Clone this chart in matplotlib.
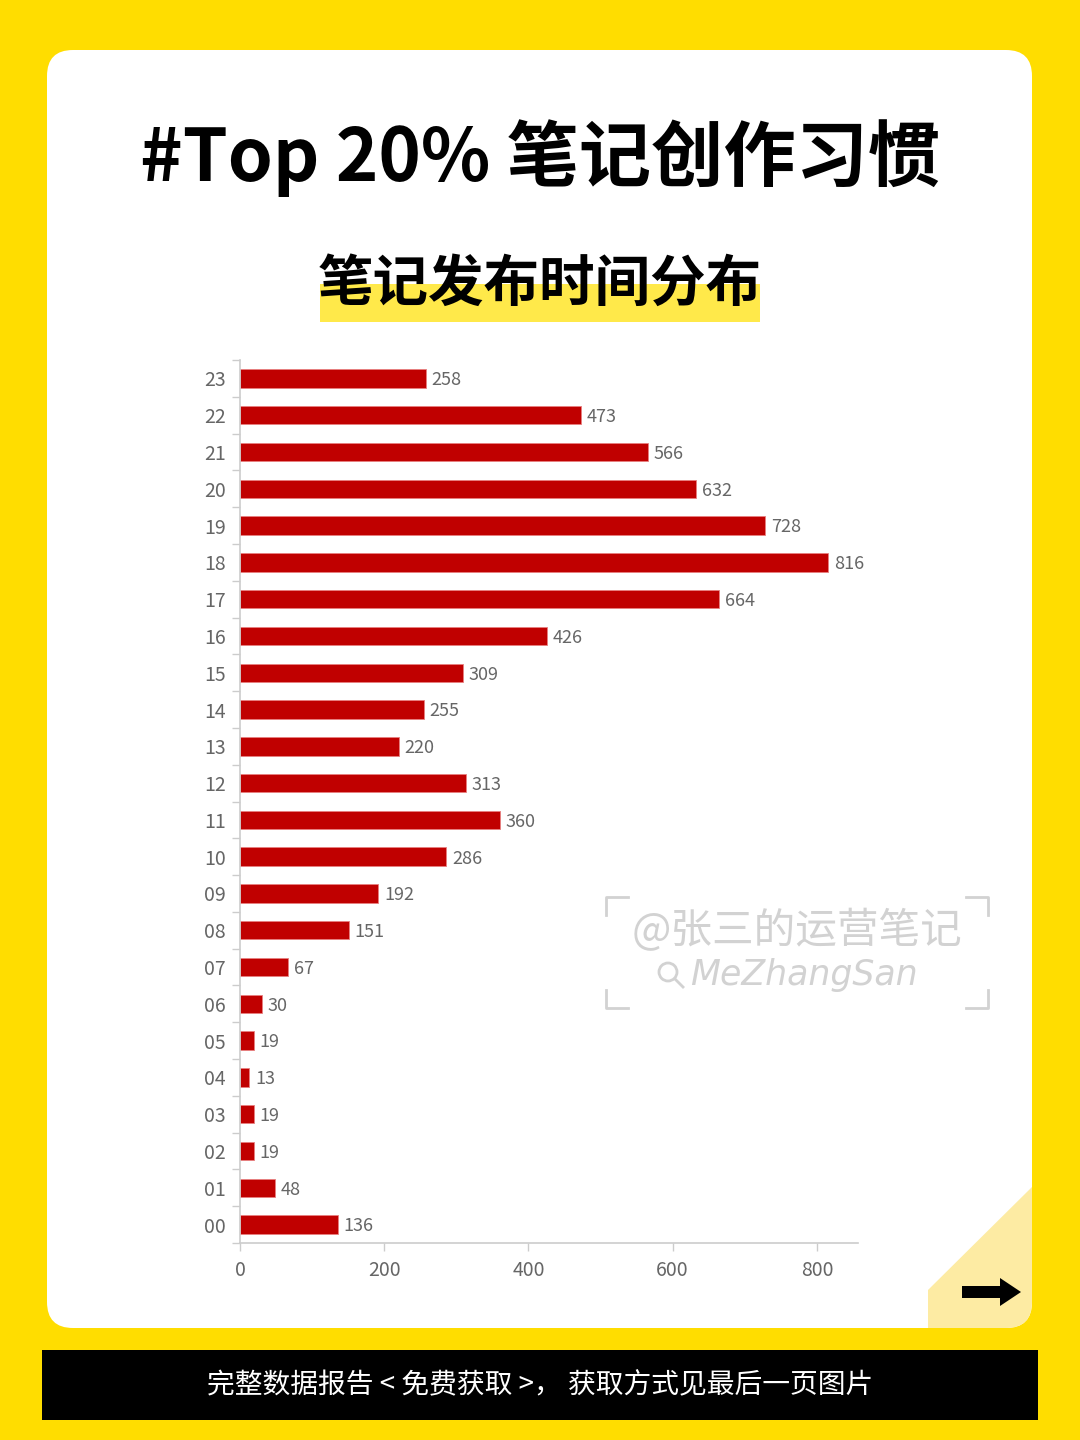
import matplotlib
matplotlib.use('Agg')

import matplotlib.pyplot as plt
from matplotlib.patches import FancyBboxPatch, Polygon, Rectangle, Circle
from matplotlib.lines import Line2D
from matplotlib.ticker import FixedLocator

plt.rcParams['font.family'] = ['Noto Sans CJK SC', 'DejaVu Sans']

# data
hours = ['00', '01', '02', '03', '04', '05', '06', '07', '08', '09', '10', '11',
         '12', '13', '14', '15', '16', '17', '18', '19', '20', '21', '22', '23']
counts = [136, 48, 19, 19, 13, 19, 30, 67, 151, 192, 286, 360,
          313, 220, 255, 309, 426, 664, 816, 728, 632, 566, 473, 258]
xticks = [0, 200, 400, 600, 800]

title = '#Top 20% 笔记创作习惯'
subtitle = '笔记发布时间分布'
footer = '完整数据报告 < 免费获取 >， 获取方式见最后一页图片'
wm1 = '@张三的运营笔记'
wm2 = 'MeZhangSan'

W, H = 1080, 1440
YELLOW = '#FFDD00'
RED = '#C00000'
GREY = '#666666'

fig = plt.figure(figsize=(W / 100, H / 100), dpi=100)
fig.patch.set_facecolor(YELLOW)

# background layer in pixel units (y counted from top)
bg = fig.add_axes([0, 0, 1, 1])
bg.set_xlim(0, W)
bg.set_ylim(0, H)
bg.axis('off')

def Y(y):
    return H - y

card = FancyBboxPatch((47, Y(1328)), 985, 1278,
                      boxstyle='round,pad=0,rounding_size=26',
                      facecolor='white', edgecolor='none', zorder=1)
bg.add_patch(card)

# folded corner
fold = Polygon([(928, Y(1340)), (928, Y(1290)), (1032, Y(1187)), (1045, Y(1187)), (1045, Y(1340))],
               closed=True, facecolor='#FDEBA3', edgecolor='none', zorder=2)
bg.add_patch(fold)
fold.set_clip_path(card)

# arrow
arrow = Polygon([(962, Y(1286)), (1000, Y(1286)), (1000, Y(1278)), (1021, Y(1292)),
                 (1000, Y(1306)), (1000, Y(1298)), (962, Y(1298))],
                closed=True, facecolor='black', edgecolor='none', zorder=3)
bg.add_patch(arrow)

# titles
bg.text(540, Y(158), title, ha='center', va='center', fontsize=52,
        fontweight='bold', color='black', zorder=3)
bg.add_patch(Rectangle((320, Y(322)), 440, 38, facecolor='#FFE94A',
                       edgecolor='none', zorder=2))
bg.text(540, Y(285), subtitle, ha='center', va='center', fontsize=40,
        fontweight='bold', color='black', zorder=3)

# footer banner
bg.add_patch(Rectangle((42, Y(1420)), 996, 70, facecolor='black',
                       edgecolor='none', zorder=2))
bg.text(540, Y(1385), footer, ha='center', va='center', fontsize=20,
        color='white', zorder=3)

# watermark
wc = '#D2D2D2'
for (x0, y0, dx, dy) in [(606, 897, 22, 18), (988, 897, -22, 18),
                          (606, 1008, 22, -18), (988, 1008, -22, -18)]:
    bg.add_line(Line2D([x0 + dx, x0, x0], [Y(y0), Y(y0), Y(y0 + dy)],
                       color=wc, lw=2, zorder=3))
bg.text(797, Y(931), wm1, ha='center', va='center', fontsize=30,
        color=wc, zorder=3)
bg.text(690, Y(975), wm2, ha='left', va='center', fontsize=25,
        style='italic', color=wc, zorder=3, family=['DejaVu Sans'])
bg.add_patch(Circle((668, Y(972)), 9, facecolor='none', edgecolor=wc, lw=2, zorder=3))
bg.add_line(Line2D([675, 683], [Y(979), Y(987)], color=wc, lw=2, zorder=3))

# bar chart
ax = fig.add_axes([240 / W, 1 - 1243 / H, 618 / W, 883 / H])
ax.set_zorder(5)
ax.patch.set_alpha(0)
ypos = list(range(len(hours)))
ax.barh(ypos, counts, height=0.5, color=RED, edgecolor='#E88080', linewidth=0.6)
for y, v in zip(ypos, counts):
    ax.text(v + 8, y - 0.05, str(v), va='center', ha='left', fontsize=13, color=GREY)

ax.set_xlim(0, 857)
ax.set_ylim(-0.5, len(hours) - 0.5)
ax.set_yticks(ypos)
ax.set_yticklabels(hours)
ax.yaxis.set_minor_locator(FixedLocator([i - 0.5 for i in range(len(hours) + 1)]))
ax.tick_params(axis='y', which='major', length=0, pad=10, labelsize=14, labelcolor=GREY)
ax.tick_params(axis='y', which='minor', length=6, color='#CCCCCC', width=1)
ax.set_xticks(xticks)
ax.tick_params(axis='x', length=6, color='#CCCCCC', width=1, pad=6,
               labelsize=14, labelcolor=GREY)
for s in ['top', 'right']:
    ax.spines[s].set_visible(False)
for s in ['left', 'bottom']:
    ax.spines[s].set_color('#CCCCCC')
    ax.spines[s].set_linewidth(1.2)

fig.savefig('out.png', dpi=100, facecolor=YELLOW)
